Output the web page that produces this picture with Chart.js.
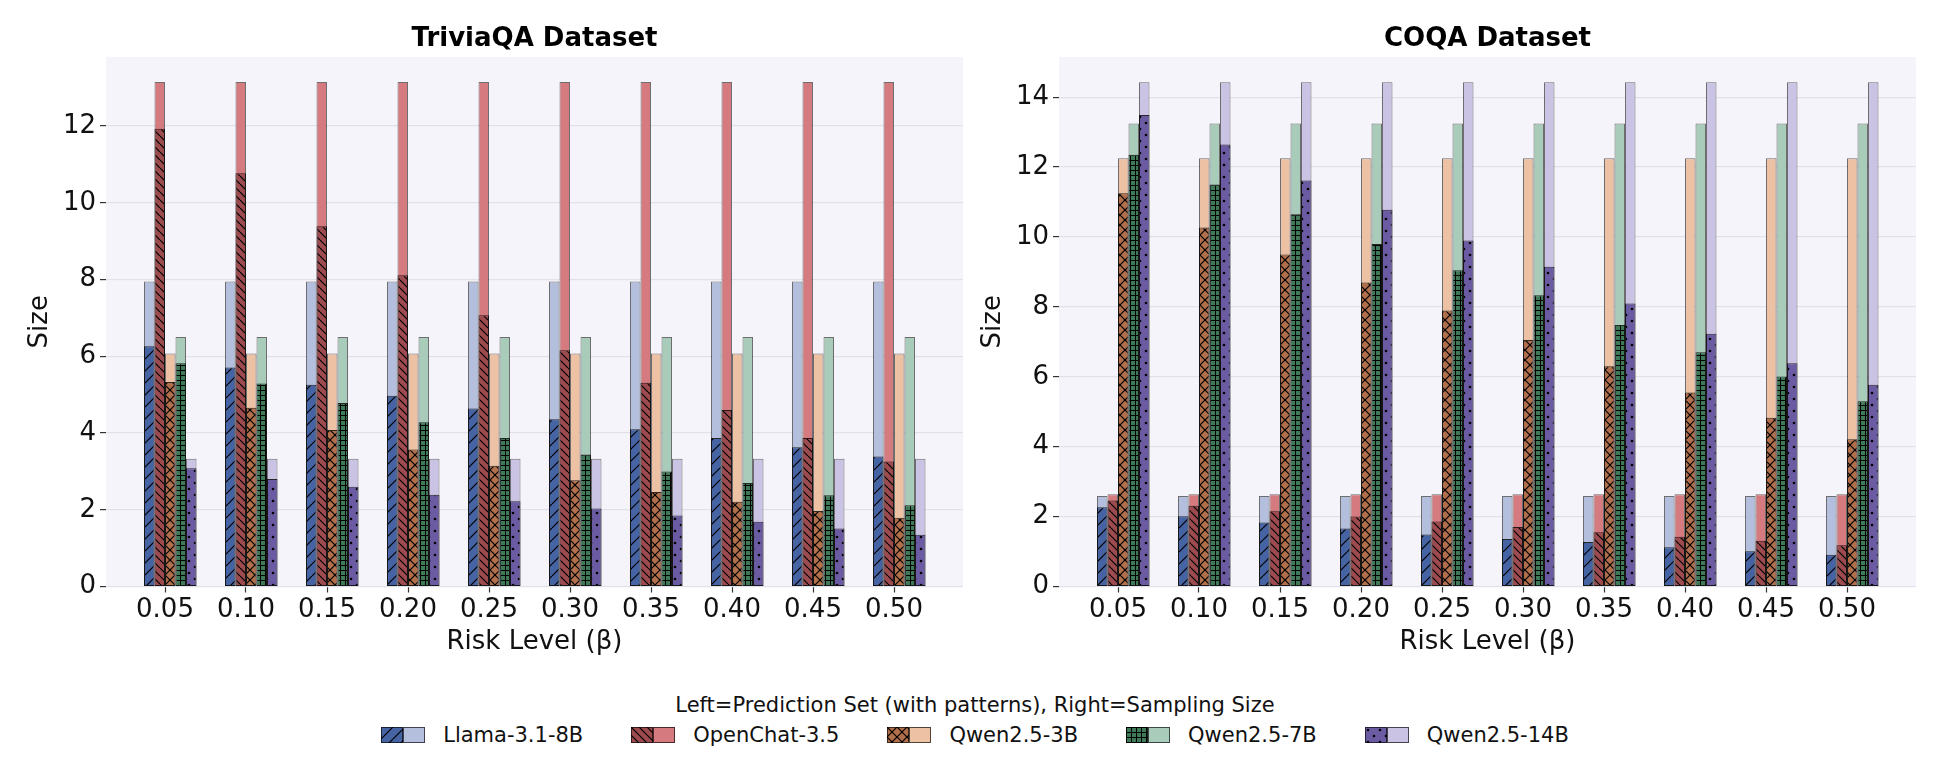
<!DOCTYPE html>
<html>
<head>
<meta charset="utf-8">
<script src="https://cdn.jsdelivr.net/npm/chart.js@4.4.1/dist/chart.umd.min.js"></script>
<style>
html,body{margin:0;padding:0;background:#fff;width:1950px;height:764px;overflow:hidden;font-family:'DejaVu Sans',sans-serif;}
#c1{position:absolute;left:0;top:0;}
#c2{position:absolute;left:975px;top:0;}
#legTitle{position:absolute;left:0;width:1950px;top:692px;text-align:center;font-size:21px;line-height:26px;color:#111;white-space:nowrap;}
#legItems{position:absolute;left:0;width:1950px;top:722px;display:flex;justify-content:center;gap:48px;}
.item{display:flex;align-items:center;font-size:21px;line-height:26px;color:#111;white-space:nowrap;}
.item canvas{margin-right:18px;display:block;}
</style>
</head>
<body>
<canvas id="c1" width="1069" height="680" style="width:1069px;height:680px"></canvas>
<canvas id="c2" width="1025" height="680" style="width:1025px;height:680px"></canvas>
<div id="legTitle">Left=Prediction Set (with patterns), Right=Sampling Size</div>
<div id="legItems"></div>
<script>
// ---------------- DATA ----------------
const riskLevels = [0.05, 0.10, 0.15, 0.20, 0.25, 0.30, 0.35, 0.40, 0.45, 0.50];
const models = ['Llama-3.1-8B', 'OpenChat-3.5', 'Qwen2.5-3B', 'Qwen2.5-7B', 'Qwen2.5-14B'];

// TriviaQA - prediction set sizes
const triviaPredLlama    = [6.26, 5.71, 5.26, 4.97, 4.64, 4.36, 4.10, 3.87, 3.63, 3.39];
const triviaPredOpenChat = [11.93, 10.77, 9.39, 8.11, 7.07, 6.16, 5.31, 4.60, 3.87, 3.26];
const triviaPredQwen3B   = [5.33, 4.66, 4.08, 3.57, 3.15, 2.77, 2.46, 2.21, 1.97, 1.79];
const triviaPredQwen7B   = [5.82, 5.29, 4.78, 4.28, 3.87, 3.44, 3.00, 2.70, 2.38, 2.12];
const triviaPredQwen14B  = [3.08, 2.80, 2.60, 2.39, 2.22, 2.03, 1.85, 1.69, 1.51, 1.35];
// TriviaQA - sampling sizes
const triviaSampLlama    = [7.95, 7.95, 7.95, 7.95, 7.95, 7.95, 7.95, 7.95, 7.95, 7.95];
const triviaSampOpenChat = [13.15, 13.15, 13.15, 13.15, 13.15, 13.15, 13.15, 13.15, 13.15, 13.15];
const triviaSampQwen3B   = [6.07, 6.07, 6.07, 6.07, 6.07, 6.07, 6.07, 6.07, 6.07, 6.07];
const triviaSampQwen7B   = [6.50, 6.50, 6.50, 6.50, 6.50, 6.50, 6.50, 6.50, 6.50, 6.50];
const triviaSampQwen14B  = [3.33, 3.33, 3.33, 3.33, 3.33, 3.33, 3.33, 3.33, 3.33, 3.33];

// COQA - prediction set sizes
const coqaPredLlama    = [2.27, 2.01, 1.83, 1.66, 1.49, 1.36, 1.27, 1.12, 1.01, 0.91];
const coqaPredOpenChat = [2.46, 2.31, 2.15, 2.00, 1.86, 1.70, 1.55, 1.42, 1.31, 1.18];
const coqaPredQwen3B   = [11.25, 10.27, 9.50, 8.70, 7.90, 7.05, 6.30, 5.55, 4.83, 4.21];
const coqaPredQwen7B   = [12.35, 11.50, 10.65, 9.80, 9.05, 8.33, 7.48, 6.70, 6.01, 5.30];
const coqaPredQwen14B  = [13.49, 12.65, 11.62, 10.78, 9.90, 9.15, 8.10, 7.23, 6.39, 5.77];
// COQA - sampling sizes
const coqaSampLlama    = [2.59, 2.59, 2.59, 2.59, 2.59, 2.59, 2.59, 2.59, 2.59, 2.59];
const coqaSampOpenChat = [2.64, 2.64, 2.64, 2.64, 2.64, 2.64, 2.64, 2.64, 2.64, 2.64];
const coqaSampQwen3B   = [12.25, 12.25, 12.25, 12.25, 12.25, 12.25, 12.25, 12.25, 12.25, 12.25];
const coqaSampQwen7B   = [13.25, 13.25, 13.25, 13.25, 13.25, 13.25, 13.25, 13.25, 13.25, 13.25];
const coqaSampQwen14B  = [14.43, 14.43, 14.43, 14.43, 14.43, 14.43, 14.43, 14.43, 14.43, 14.43];

const yTicksTrivia = [0, 2, 4, 6, 8, 10, 12];
const yTicksCoqa   = [0, 2, 4, 6, 8, 10, 12, 14];

// ---------------- STYLE ----------------
const darkColors  = ['#4663a3', '#9d4b4f', '#b26f4b', '#3e7a58', '#6b5ba3'];
const lightColors = ['#b3bfdc', '#d57b80', '#ecc1a4', '#a9cbb9', '#cbc3e4'];
const hatchKinds  = ['fwd', 'back', 'cross', 'grid', 'dots'];
const plotBg = '#f4f4fa';

Chart.defaults.font.family = "'DejaVu Sans', sans-serif";

function makeTile(kind, color) {
  const sizes = {fwd: 12, back: 8, cross: 10, grid: 5, dots: 12};
  const s = sizes[kind];
  const t = document.createElement('canvas');
  t.width = s; t.height = s;
  const g = t.getContext('2d');
  g.fillStyle = color; g.fillRect(0, 0, s, s);
  g.strokeStyle = '#000'; g.fillStyle = '#000'; g.lineWidth = 1.2;
  const diag = (dir) => {
    for (const k of [-s, 0, s]) {
      g.beginPath();
      if (dir > 0) { g.moveTo(k, s); g.lineTo(k + s, 0); }
      else { g.moveTo(k, 0); g.lineTo(k + s, s); }
      g.stroke();
    }
  };
  if (kind === 'fwd') diag(1);
  else if (kind === 'back') diag(-1);
  else if (kind === 'cross') { diag(1); diag(-1); }
  else if (kind === 'grid') {
    g.lineWidth = 1;
    g.beginPath(); g.moveTo(0, 0.5); g.lineTo(s, 0.5); g.stroke();
    g.beginPath(); g.moveTo(0.5, 0); g.lineTo(0.5, s); g.stroke();
  } else if (kind === 'dots') {
    g.beginPath(); g.arc(3, 3, 1.3, 0, Math.PI * 2); g.fill();
    g.beginPath(); g.arc(9, 9, 1.3, 0, Math.PI * 2); g.fill();
  }
  return t;
}
const tiles = hatchKinds.map((k, i) => makeTile(k, darkColors[i]));

const bgPlugin = {
  id: 'plotBg',
  beforeDraw(chart) {
    const {ctx, chartArea: a} = chart;
    ctx.save();
    ctx.fillStyle = plotBg;
    ctx.fillRect(a.left, a.top, a.right - a.left, a.bottom - a.top);
    ctx.restore();
  }
};

// x-range so that ticks sit 81px apart with matplotlib-like margins
const xMin = 0.05 - 59 / 1620;
const xMax = 0.50 + 69 / 1620;

function makeChart(id, title, preds, samps, yTicks, yMax, yWidth, yTitlePad, rightPad) {
  const ctx = document.getElementById(id).getContext('2d');
  const datasets = [{
    label: '_pad', data: riskLevels.map(() => null), stack: 'pad', order: 0,
    backgroundColor: 'rgba(0,0,0,0)', borderWidth: 0
  }];
  preds.forEach((arr, i) => {
    datasets.push({
      label: models[i] + ' (prediction set)', data: arr, stack: 's' + i, order: 0,
      backgroundColor: ctx.createPattern(tiles[i], 'repeat'),
      borderColor: 'rgba(0,0,0,0.8)', borderWidth: 1, borderSkipped: false
    });
  });
  samps.forEach((arr, i) => {
    datasets.push({
      label: models[i] + ' (sampling size)', data: arr, stack: 's' + i, order: 1,
      backgroundColor: lightColors[i],
      borderColor: 'rgba(0,0,0,0.55)', borderWidth: 1, borderSkipped: false
    });
  });
  return new Chart(ctx, {
    type: 'bar',
    data: {labels: riskLevels, datasets},
    plugins: [bgPlugin],
    options: {
      responsive: false, animation: false, devicePixelRatio: 1,
      categoryPercentage: 63 / 81, barPercentage: 1,
      layout: {padding: {top: 0, left: 0, right: rightPad, bottom: 0}},
      plugins: {
        legend: {display: false}, tooltip: {enabled: false},
        title: {display: true, fullSize: false, text: title, color: '#000',
          font: {size: 26, weight: 'bold'}, padding: {top: 23.4, bottom: 2.4}}
      },
      scales: {
        x: {
          type: 'linear', min: xMin, max: xMax, stacked: true, offset: false,
          afterBuildTicks: ax => { ax.ticks = riskLevels.map(v => ({value: v})); },
          afterFit: ax => { ax.height = 93.5; },
          ticks: {autoSkip: false, maxRotation: 0, minRotation: 0, padding: 2, color: '#111',
            font: {size: 26}, callback: v => Number(v).toFixed(2)},
          grid: {offset: false, drawOnChartArea: false, drawTicks: true, tickLength: 6, tickColor: '#333', tickWidth: 1.2},
          border: {display: false},
          title: {display: true, text: 'Risk Level (β)', color: '#111', font: {size: 26},
            padding: {top: 0, bottom: 22.4}}
        },
        y: {
          type: 'linear', min: 0, max: yMax, stacked: false,
          afterBuildTicks: ax => { ax.ticks = yTicks.map(v => ({value: v})); },
          afterFit: ax => { ax.width = yWidth; },
          ticks: {padding: 4, color: '#111', font: {size: 26}, callback: v => String(v)},
          grid: {offset: false, color: '#e1e1ea', lineWidth: 1.2, drawTicks: true, tickLength: 6, tickColor: '#333', tickWidth: 1.2},
          border: {display: false},
          title: {display: true, text: 'Size', color: '#111', font: {size: 26},
            padding: {top: yTitlePad, bottom: 0}}
        }
      }
    }
  });
}

makeChart('c1', 'TriviaQA Dataset',
  [triviaPredLlama, triviaPredOpenChat, triviaPredQwen3B, triviaPredQwen7B, triviaPredQwen14B],
  [triviaSampLlama, triviaSampOpenChat, triviaSampQwen3B, triviaSampQwen7B, triviaSampQwen14B],
  yTicksTrivia, 13.8, 106, 24.4, 106);

makeChart('c2', 'COQA Dataset',
  [coqaPredLlama, coqaPredOpenChat, coqaPredQwen3B, coqaPredQwen7B, coqaPredQwen14B],
  [coqaSampLlama, coqaSampOpenChat, coqaSampQwen3B, coqaSampQwen7B, coqaSampQwen14B],
  yTicksCoqa, 15.15, 84, 2.7, 84);

// ---------------- LEGEND ----------------
const leg = document.getElementById('legItems');
models.forEach((m, i) => {
  const item = document.createElement('div');
  item.className = 'item';
  const c = document.createElement('canvas');
  c.width = 44; c.height = 16;
  const g = c.getContext('2d');
  g.fillStyle = g.createPattern(tiles[i], 'repeat');
  g.fillRect(0, 0, 22, 16);
  g.fillStyle = lightColors[i];
  g.fillRect(22, 0, 22, 16);
  g.strokeStyle = 'rgba(0,0,0,0.65)'; g.lineWidth = 1;
  g.strokeRect(0.5, 0.5, 21, 15);
  g.strokeRect(22.5, 0.5, 21, 15);
  item.appendChild(c);
  const sp = document.createElement('span');
  sp.textContent = m;
  item.appendChild(sp);
  leg.appendChild(item);
});
</script>
</body>
</html>
